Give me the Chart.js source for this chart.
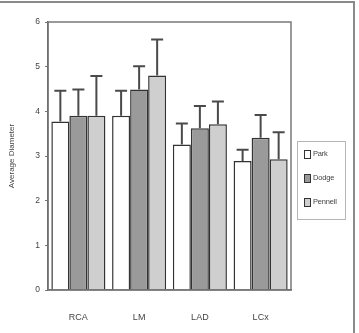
<!DOCTYPE html>
<html>
<head>
<meta charset="utf-8">
<script src="https://cdn.jsdelivr.net/npm/chart.js@4.4.1/dist/chart.umd.min.js"></script>
<style>
  body { margin: 0; background: #fff; font-family: Arial, "Liberation Sans", sans-serif; }
  #wrap { position: relative; width: 359px; height: 333px; overflow: hidden; }
  #frame { position: absolute; left: -4px; top: 1px; width: 355px; height: 340px; border: 2px solid #8a8a8a; }
  #legend { position: absolute; left: 297px; top: 141px; width: 47px; height: 77px; border: 1px solid #b5b5b5; background: #fff; will-change: transform; -webkit-font-smoothing: antialiased; }
  .item { position: absolute; left: 6px; font-size: 7.5px; color: #444; line-height: 9px; letter-spacing: -0.2px; }
  .sw { display: inline-block; width: 5px; height: 7px; border: 1.5px solid #333; vertical-align: middle; margin-right: 2px; }
</style>
</head>
<body>
<div id="wrap">
  <canvas id="c" width="359" height="333"></canvas>
  <div id="frame"></div>
  <div id="legend"></div>
</div>
<script>
// vessel segments and group names
const categories = ['RCA', 'LM', 'LAD', 'LCx'];
const seriesNames = ['Park', 'Dodge', 'Pennell'];
// mean diameters
const park = [3.77, 3.90, 3.26, 2.89];
const dodge = [3.90, 4.49, 3.62, 3.41];
const pennell = [3.90, 4.80, 3.71, 2.93];
// top of error bars (mean + SD)
const parkErr = [4.46, 4.46, 3.73, 3.14];
const dodgeErr = [4.49, 5.01, 4.12, 3.92];
const pennellErr = [4.79, 5.61, 4.22, 3.53];
const yTicks = [0, 1, 2, 3, 4, 5, 6];

const fills = ['#ffffff', '#9a9a9a', '#cfcfcf'];
const errTops = [parkErr, dodgeErr, pennellErr];

// error bars: only the upper whisker, drawn with the scales
const errorBars = {
  id: 'errorBars',
  afterDatasetsDraw(chart) {
    const ctx = chart.ctx;
    const y = chart.scales.y;
    ctx.save();
    ctx.strokeStyle = '#4a4a4a';
    ctx.lineWidth = 2;
    chart.data.datasets.forEach((ds, i) => {
      chart.getDatasetMeta(i).data.forEach((bar, j) => {
        const top = y.getPixelForValue(errTops[i][j]);
        ctx.beginPath();
        ctx.moveTo(bar.x, bar.y);
        ctx.lineTo(bar.x, top);
        ctx.moveTo(bar.x - 6, top);
        ctx.lineTo(bar.x + 6, top);
        ctx.stroke();
      });
    });
    ctx.restore();
  }
};

// grey box round the plot area
const plotFrame = {
  id: 'plotFrame',
  afterDraw(chart) {
    const a = chart.chartArea;
    const ctx = chart.ctx;
    ctx.save();
    ctx.strokeStyle = '#7a7a7a';
    ctx.lineWidth = 1.5;
    ctx.strokeRect(a.left, a.top, a.right - a.left, a.bottom - a.top);
    ctx.restore();
  }
};

new Chart(document.getElementById('c'), {
  type: 'bar',
  data: {
    labels: categories,
    datasets: [park, dodge, pennell].map((vals, i) => ({
      label: seriesNames[i],
      data: vals,
      backgroundColor: fills[i],
      borderColor: '#333',
      borderWidth: 1.5,
      barPercentage: 1,
      categoryPercentage: 0.89
    }))
  },
  options: {
    responsive: false,
    animation: false,
    layout: { padding: { top: 22, right: 68, left: 0, bottom: 0 } },
    plugins: { legend: { display: false }, tooltip: { enabled: false } },
    scales: {
      x: {
        grid: { display: false },
        border: { display: true, color: '#555', width: 1.5 },
        ticks: { padding: 14, color: '#444', font: { size: 9 } },
        afterFit: s => { s.height = 43; }
      },
      y: {
        min: 0, max: 6,
        afterBuildTicks: s => { s.ticks = yTicks.map(v => ({ value: v })); },
        grid: { display: true, drawOnChartArea: false, tickLength: 3, color: '#777' },
        border: { display: true, color: '#555', width: 1.5 },
        ticks: { padding: 5, color: '#444', font: { size: 8.5 } },
        title: { display: true, text: 'Average Diameter', color: '#444', font: { size: 8 }, padding: { top: 7, bottom: 0 } },
        afterFit: s => { s.width = 48; }
      }
    }
  },
  plugins: [errorBars, plotFrame]
});

// legend box to the right of the plot
const legend = document.getElementById('legend');
seriesNames.forEach((name, i) => {
  const d = document.createElement('div');
  d.className = 'item';
  d.style.top = (7 + i * 24) + 'px';
  d.innerHTML = '<span class="sw" style="background:' + fills[i] + '"></span>' + name;
  legend.appendChild(d);
});
</script>
</body>
</html>
